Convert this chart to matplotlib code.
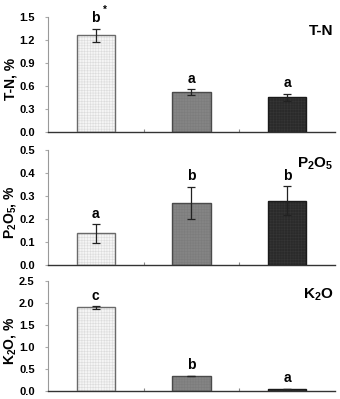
import matplotlib
matplotlib.use("Agg")
import matplotlib.pyplot as plt
import numpy as np

plt.rcParams['font.family'] = ['Liberation Sans', 'DejaVu Sans']
plt.rcParams['font.weight'] = 'bold'
plt.rcParams['mathtext.fontset'] = 'custom'
plt.rcParams['mathtext.rm'] = 'Liberation Sans:bold'
plt.rcParams['mathtext.default'] = 'rm'
plt.rcParams['hatch.linewidth'] = 0.4

categories = ["A", "B", "C"]
tn_vals = [1.26, 0.515, 0.45]
tn_err = [0.085, 0.037, 0.045]
tn_letters = ["b", "a", "a"]
p_vals = [0.137, 0.27, 0.28]
p_err = [0.04, 0.07, 0.063]
p_letters = ["a", "b", "b"]
k_vals = [1.91, 0.35, 0.06]
k_err = [0.03, 0.01, 0.0]
k_letters = ["c", "b", "a"]

panels = [
    dict(vals=tn_vals, err=tn_err, letters=tn_letters, ymax=1.5, step=0.3,
         ylabel="T-N, %", title="T-N", pos=[0.141, 0.670, 0.844, 0.288], star=True),
    dict(vals=p_vals, err=p_err, letters=p_letters, ymax=0.5, step=0.1,
         ylabel="P$_2$O$_5$, %", title="P$_2$O$_5$", pos=[0.141, 0.336, 0.844, 0.288], star=False),
    dict(vals=k_vals, err=k_err, letters=k_letters, ymax=2.5, step=0.5,
         ylabel="K$_2$O, %", title="K$_2$O", pos=[0.141, 0.019, 0.844, 0.276], star=False),
]

faces = ["#f5f5f5", "#848484", "#2a2a2a"]
hatch_cols = ["#dcdcdc", "#7c7c7c", "#353535"]
edge_cols = ["#6a6a6a", "#4a4a4a", "#1a1a1a"]

fig = plt.figure(figsize=(3.40, 3.99), dpi=100)
x = np.arange(len(categories))
w = 0.40
for p in panels:
    ax = fig.add_axes(p["pos"])
    for i in range(len(categories)):
        ax.bar(x[i], p["vals"][i], width=w, color=faces[i], edgecolor='none', zorder=2)
        ax.bar(x[i], p["vals"][i], width=w, fill=False, hatch='++++++', edgecolor=hatch_cols[i],
               linewidth=0, zorder=2.5)
        ax.bar(x[i], p["vals"][i], width=w, fill=False, edgecolor=edge_cols[i], linewidth=1.0, zorder=3)
    ax.errorbar(x, p["vals"], yerr=p["err"], fmt='none', ecolor='#222222', elinewidth=0.9,
                capsize=3, capthick=0.9, zorder=4)
    for i, l in enumerate(p["letters"]):
        ytop = p["vals"][i] + p["err"][i]
        ax.text(x[i], ytop + p["ymax"] * 0.03, l, ha='center', va='bottom', fontsize=10, fontweight='bold')
    if p["star"]:
        ax.text(x[0] + 0.08, p["vals"][0] + p["err"][0] + p["ymax"] * 0.12, "*", ha='left', va='bottom', fontsize=7)
    ax.set_xlim(-0.5, 2.5)
    ax.set_ylim(0, p["ymax"])
    ticks = np.round(np.arange(0, p["ymax"] + 1e-9, p["step"]), 2)
    ax.set_yticks(ticks)
    ax.set_yticklabels([f"{t:.1f}" for t in ticks], fontsize=8, fontweight='bold')
    ax.set_xticks([0.5, 1.5])
    ax.set_xticklabels([])
    ax.tick_params(axis='x', direction='in', length=2.5, color='#888888')
    ax.tick_params(axis='y', direction='out', length=2.5, color='#aaaaaa', pad=7)
    for s in ['top', 'right']:
        ax.spines[s].set_visible(False)
    ax.spines['left'].set_color('#999999')
    ax.spines['bottom'].set_color('#333333')
    ax.spines['left'].set_linewidth(0.8)
    ax.spines['bottom'].set_linewidth(1.0)
    ax.set_ylabel(p["ylabel"], fontsize=10, fontweight='bold')
    ax.yaxis.set_label_coords(-0.105, 0.46)
    ax.text(0.995, 0.88, p["title"], transform=ax.transAxes, ha='right', va='center',
            fontsize=11, fontweight='bold')

fig.savefig("out.png", dpi=100)
